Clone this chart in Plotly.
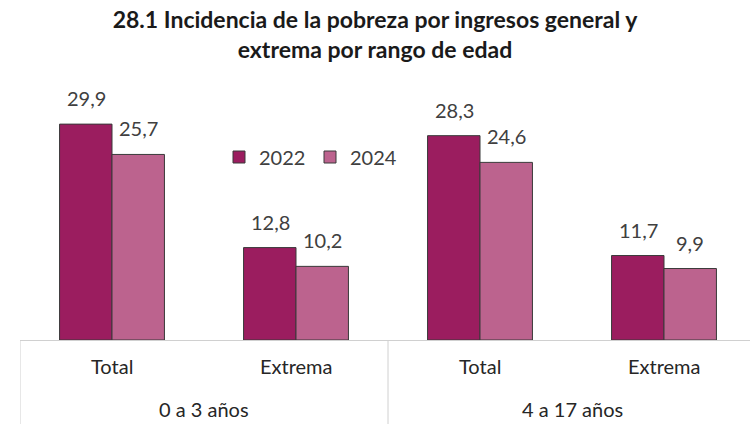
import plotly.graph_objects as go

categories = ["Total", "Extrema", "Total", "Extrema"]
groups = ["0 a 3 años", "4 a 17 años"]
series_names = ["2022", "2024"]
values_2022 = [29.9, 12.8, 28.3, 11.7]
values_2024 = [25.7, 10.2, 24.6, 9.9]

colors = ["#9B1D5F", "#BC638E"]
FONT = "Lato"
TXT = "#404040"
FS = 20

xs = list(range(len(categories)))
fig = go.Figure()
for name, vals, col in zip(series_names, [values_2022, values_2024], colors):
    fig.add_trace(go.Bar(
        x=xs, y=vals, name=name,
        marker=dict(color=col, line=dict(color="#3a3a3a", width=1)),
    ))

annotations = []
for i, (v1, v2) in enumerate(zip(values_2022, values_2024)):
    for v, sh in ((v1, -26), (v2, 26)):
        annotations.append(dict(
            x=i, y=v, xref="x", yref="y", text=f"{v:.1f}".replace(".", ","),
            showarrow=False, xshift=sh, yshift=12, yanchor="bottom",
            font=dict(family=FONT, size=FS, color=TXT)))
for i, c in enumerate(categories):
    annotations.append(dict(
        x=i, y=0, xref="x", yref="paper", text=c, showarrow=False,
        yshift=-26, yanchor="middle", font=dict(family=FONT, size=FS, color="#262626")))
for g, gname in enumerate(groups):
    annotations.append(dict(
        x=2 * g + 0.5, y=0, xref="x", yref="paper", text=gname, showarrow=False,
        yshift=-69, yanchor="middle", font=dict(family=FONT, size=FS, color="#262626")))

shapes = []
for xv in (-0.5, 1.5):
    shapes.append(dict(type="line", xref="x", yref="paper", x0=xv, x1=xv,
                       y0=0, y1=-84 / 260, line=dict(color="#D0D0D0", width=1)))

fig.update_layout(
    width=750, height=424,
    margin=dict(l=20, r=0, t=80, b=84),
    paper_bgcolor="white", plot_bgcolor="white",
    barmode="group", bargap=0.43, bargroupgap=0,
    title=dict(text="<b>28.1 Incidencia de la pobreza por ingresos general y<br>extrema por rango de edad</b>",
               x=0.5, xanchor="center", y=1 - 28 / 424, yanchor="top",
               font=dict(family=FONT, size=23, color="#1a1a1a")),
    legend=dict(orientation="h", x=(219 - 20) / 730, y=(340 - 157) / 260,
                xanchor="left", yanchor="middle",
                font=dict(family=FONT, size=FS, color=TXT), bgcolor="rgba(0,0,0,0)",
                itemwidth=30, traceorder="normal", tracegroupgap=0,
                entrywidth=46, entrywidthmode="pixels"),
    xaxis=dict(range=[-0.5, 730 / 184 - 0.5], showticklabels=False, showgrid=False,
               zeroline=False, showline=True, linecolor="#D0D0D0", linewidth=1, ticks=""),
    yaxis=dict(range=[0, 260 / 7.22], visible=False),
    annotations=annotations, shapes=shapes,
)
fig.write_html("out.html", config={"displayModeBar": False},
               post_script="document.body.style.margin='0';")
